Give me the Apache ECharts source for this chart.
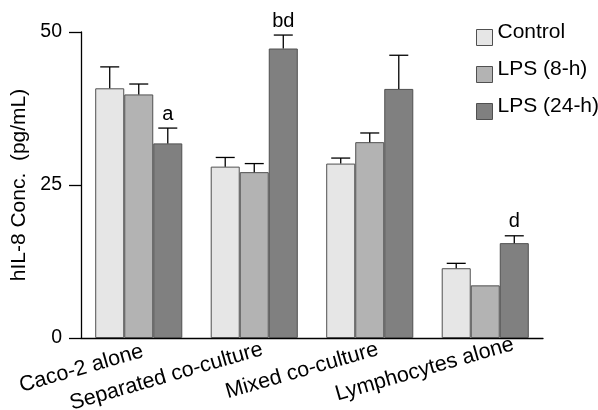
<!DOCTYPE html>
<html>
<head>
<meta charset="utf-8">
<script src="https://cdn.jsdelivr.net/npm/echarts@6/dist/echarts.min.js"></script>
<style>html,body{margin:0;padding:0;background:#fff}#c{width:598px;height:410px}</style>
</head>
<body>
<div id="c"></div>
<script>
var categories = ['Caco-2 alone', 'Separated co-culture', 'Mixed co-culture', 'Lymphocytes alone'];
var seriesNames = ['Control', 'LPS (8-h)', 'LPS (24-h)'];
var controlValues = [40.8, 28.0, 28.5, 11.4];
var lps8Values = [39.8, 27.1, 32.0, 8.6];
var lps24Values = [31.8, 47.3, 40.7, 15.5];
var controlErr = [3.5, 1.5, 0.9, 0.8];
var lps8Err = [1.7, 1.4, 1.5, 0];
var lps24Err = [2.5, 2.2, 5.5, 1.2];
var lps24Marks = ['a', 'bd', '', 'd'];
var yTicks = [0, 25, 50];

// label placement (style, not data)
var labelDx = [4, 8, 8, 28];
var labelDy = [13, 11, 11, 6];

var colors = ['#e6e6e6', '#b3b3b3', '#808080'];
var values = [controlValues, lps8Values, lps24Values];
var errs = [controlErr, lps8Err, lps24Err];
var marks = [['', '', '', ''], ['', '', '', ''], lps24Marks];
var catGap = 0.246;
var FONT = '"Liberation Sans", Arial, sans-serif';

var chart = echarts.init(document.getElementById('c'));
var series = [];
values.forEach(function (vals, si) {
  series.push({
    name: seriesNames[si], type: 'bar', data: vals,
    barGap: '0%', barCategoryGap: (catGap * 100) + '%',
    itemStyle: { color: colors[si], borderColor: '#505050', borderWidth: 1 },
    emphasis: { disabled: true }
  });
});
var errData = [];
values.forEach(function (vals, si) {
  vals.forEach(function (v, ci) {
    errData.push([ci, v, v + errs[si][ci], si, marks[si][ci]]);
  });
});
series.push({
  type: 'custom', data: errData, silent: true, z: 5,
  renderItem: function (params, api) {
    var ci = api.value(0), si = api.value(3);
    var band = api.size([1, 0])[0];
    var bw = band * (1 - catGap) / 3;
    var base = api.coord([ci, api.value(1)]);
    var top = api.coord([ci, api.value(2)]);
    var x = base[0] + (si - 1) * bw;
    var children = [];
    if (api.value(2) > api.value(1)) {
      children.push({ type: 'line', shape: { x1: x, y1: base[1], x2: x, y2: top[1] }, style: { stroke: '#000', lineWidth: 1.3 } });
      children.push({ type: 'line', shape: { x1: x - 9.5, y1: top[1], x2: x + 9.5, y2: top[1] }, style: { stroke: '#000', lineWidth: 1.3 } });
    }
    var m = errData[params.dataIndex][4];
    if (m) {
      children.push({ type: 'text', style: { text: m, x: x, y: top[1] - 4, textAlign: 'center', textVerticalAlign: 'bottom', font: '20px ' + FONT, fill: '#000' } });
    }
    return { type: 'group', children: children };
  }
});

chart.setOption({
  animation: false,
  grid: { left: 81, right: 55, top: 32, bottom: 72 },
  legend: {
    orient: 'vertical', left: 471, top: 17, itemWidth: 16, itemHeight: 16, itemGap: 9,
    data: seriesNames, icon: 'rect',
    itemStyle: { borderColor: '#505050', borderWidth: 1 },
    formatter: function (name) { return '{t|' + name + '}\n{s| }'; },
    textStyle: { fontFamily: FONT, fontSize: 21, color: '#000',
      rich: { t: { fontFamily: FONT, fontSize: 21, color: '#000', lineHeight: 24 }, s: { fontSize: 1, lineHeight: 10 } } }
  },
  xAxis: {
    type: 'category', data: categories,
    axisLine: { lineStyle: { color: '#000', width: 1.3 } },
    axisTick: { show: false },
    axisLabel: { show: false }
  },
  yAxis: {
    type: 'value', min: 0, max: 50, interval: 25,
    name: 'hIL-8 Conc.  (pg/mL)', nameLocation: 'middle', nameGap: 50,
    nameTextStyle: { fontFamily: FONT, fontSize: 21, color: '#000' },
    axisLine: { show: true, lineStyle: { color: '#000', width: 1.3 } },
    axisTick: { show: true, length: 12, lineStyle: { color: '#000', width: 1.3 } },
    splitLine: { show: false },
    axisLabel: { margin: 19, fontFamily: FONT, fontSize: 19.5, color: '#000',
      formatter: function (v) { return yTicks.indexOf(v) >= 0 ? String(v) : ''; } }
  },
  series: series
});

var axisY = chart.convertToPixel({ yAxisIndex: 0 }, 0);
var labels = categories.map(function (c, i) {
  var x = chart.convertToPixel({ xAxisIndex: 0 }, c);
  return {
    type: 'text', x: x + labelDx[i], y: axisY + labelDy[i], rotation: 16 * Math.PI / 180,
    style: { text: c, textAlign: 'right', textVerticalAlign: 'middle', font: '21.5px ' + FONT, fill: '#000' }
  };
});
chart.setOption({ graphic: labels });
</script>
</body>
</html>
